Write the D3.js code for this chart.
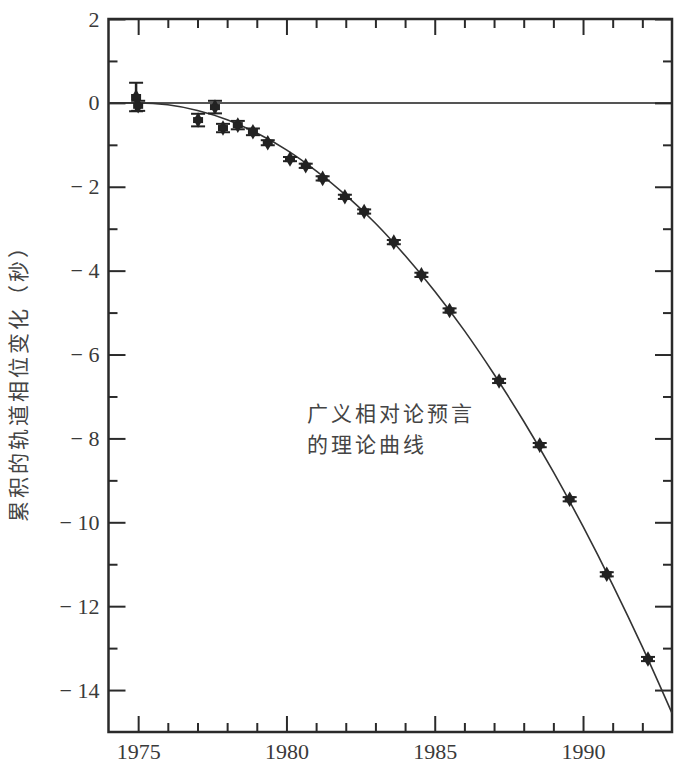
<!DOCTYPE html>
<html>
<head>
<meta charset="utf-8">
<script src="https://cdn.jsdelivr.net/npm/d3@7"></script>
<style>
  html, body { margin: 0; padding: 0; background: #fff; }
  svg { display: block; }
</style>
</head>
<body>
<div id="chart"></div>
<script>
// ---- data ----
const obsYears  = [1974.93, 1975.0, 1977.02, 1977.59, 1977.86, 1978.36, 1978.87, 1979.37, 1980.12, 1980.65, 1981.22, 1981.97, 1982.62, 1983.62, 1984.55, 1985.5, 1987.17, 1988.54, 1989.55, 1990.8, 1992.19];
const obsValues = [0.14, -0.07, -0.41, -0.1, -0.6, -0.53, -0.69, -0.95, -1.34, -1.5, -1.8, -2.24, -2.59, -3.32, -4.1, -4.95, -6.63, -8.16, -9.45, -11.24, -13.26];
const obsErrors = [0.34, 0.12, 0.15, 0.15, 0.1, 0.1, 0.08, 0.06, 0.05, 0.05, 0.05, 0.05, 0.05, 0.05, 0.05, 0.05, 0.05, 0.05, 0.05, 0.05, 0.05];

const curveYears  = [1974.0, 1975, 1976, 1977, 1978, 1979, 1980, 1981, 1982, 1983, 1984, 1985, 1986, 1987, 1988, 1989, 1990, 1991, 1992, 1993];
const curveValues = [0, 0, -0.045, -0.18, -0.40, -0.72, -1.12, -1.62, -2.20, -2.87, -3.64, -4.49, -5.43, -6.47, -7.59, -8.80, -10.10, -11.49, -12.97, -14.55];

const xMajorTicks = [1975, 1980, 1985, 1990];
const xMinorTicks = [1976, 1977, 1978, 1979, 1981, 1982, 1983, 1984, 1986, 1987, 1988, 1989, 1991, 1992];
const yMajorTicks = [2, 0, -2, -4, -6, -8, -10, -12, -14];
const yMinorTicks = [1, -1, -3, -5, -7, -9, -11, -13];

const yAxisTitle = "累积的轨道相位变化（秒）";
const annotationLines = ["广义相对论预言", "的理论曲线"];

// ---- layout ----
const W = 681, H = 769;
const pLeft = 108.5, pRight = 672, pTop = 19, pBottom = 732;

const svg = d3.select("#chart").append("svg")
  .attr("width", W).attr("height", H)
  .style("background", "#fff");

const x = d3.scaleLinear().domain([1974, 1993]).range([pLeft, pRight]);
const y = d3.scaleLinear().domain([-15, 2]).range([pBottom, pTop]);

const ink = "#2a2a2a";
const fmtY = d => d < 0 ? "\u2212 " + Math.abs(d) : String(d);

// zero line
svg.append("line")
  .attr("x1", x(1974)).attr("x2", x(1993))
  .attr("y1", y(0)).attr("y2", y(0))
  .attr("stroke", "#555").attr("stroke-width", 2);

function styleAxis(g) {
  g.select(".domain").remove();
  g.selectAll(".tick line").attr("stroke", ink).attr("stroke-width", 2);
  g.selectAll(".tick text")
    .attr("fill", "#3a3a3a")
    .style("font-family", "'Liberation Serif', 'DejaVu Serif', serif")
    .style("font-size", "22px");
}

// left axis
svg.append("g").attr("transform", `translate(${pLeft},0)`)
  .call(d3.axisLeft(y).tickValues(yMajorTicks).tickSizeInner(-17).tickSizeOuter(0).tickPadding(9).tickFormat(fmtY))
  .call(styleAxis);
svg.append("g").attr("transform", `translate(${pLeft},0)`)
  .call(d3.axisLeft(y).tickValues(yMinorTicks).tickSizeInner(-9).tickSizeOuter(0).tickFormat(""))
  .call(styleAxis);
// right axis
svg.append("g").attr("transform", `translate(${pRight},0)`)
  .call(d3.axisRight(y).tickValues(yMajorTicks).tickSizeInner(-17).tickSizeOuter(0).tickFormat(""))
  .call(styleAxis);
svg.append("g").attr("transform", `translate(${pRight},0)`)
  .call(d3.axisRight(y).tickValues(yMinorTicks).tickSizeInner(-9).tickSizeOuter(0).tickFormat(""))
  .call(styleAxis);
// bottom axis
svg.append("g").attr("transform", `translate(0,${pBottom})`)
  .call(d3.axisBottom(x).tickValues(xMajorTicks).tickSizeInner(-16).tickSizeOuter(0).tickPadding(11).tickFormat(d3.format("d")))
  .call(styleAxis);
svg.append("g").attr("transform", `translate(0,${pBottom})`)
  .call(d3.axisBottom(x).tickValues(xMinorTicks).tickSizeInner(-9).tickSizeOuter(0).tickFormat(""))
  .call(styleAxis);
// top axis
svg.append("g").attr("transform", `translate(0,${pTop})`)
  .call(d3.axisTop(x).tickValues(xMajorTicks).tickSizeInner(-16).tickSizeOuter(0).tickFormat(""))
  .call(styleAxis);
svg.append("g").attr("transform", `translate(0,${pTop})`)
  .call(d3.axisTop(x).tickValues(xMinorTicks).tickSizeInner(-9).tickSizeOuter(0).tickFormat(""))
  .call(styleAxis);

// frame
svg.append("rect")
  .attr("x", pLeft).attr("y", pTop)
  .attr("width", pRight - pLeft).attr("height", pBottom - pTop)
  .attr("fill", "none").attr("stroke", ink).attr("stroke-width", 2.5);

// theory curve
const curve = curveYears.map((t, i) => [t, curveValues[i]]);
svg.append("path")
  .datum(curve)
  .attr("fill", "none")
  .attr("stroke", "#333")
  .attr("stroke-width", 1.6)
  .attr("d", d3.line().x(d => x(d[0])).y(d => y(d[1])).curve(d3.curveMonotoneX));

// observations
const obs = obsYears.map((t, i) => ({ t, v: obsValues[i], e: obsErrors[i] }));
const pts = svg.append("g").selectAll("g").data(obs).join("g")
  .attr("transform", d => `translate(${x(d.t)},${y(d.v)})`);
pts.append("line")
  .attr("x1", 0).attr("x2", 0)
  .attr("y1", d => y(d.v + d.e) - y(d.v))
  .attr("y2", d => y(d.v - d.e) - y(d.v))
  .attr("stroke", "#222").attr("stroke-width", 2.5);
pts.append("line").attr("class", "cap")
  .attr("x1", -7).attr("x2", 7)
  .attr("y1", d => y(d.v + d.e) - y(d.v))
  .attr("y2", d => y(d.v + d.e) - y(d.v))
  .attr("stroke", "#222").attr("stroke-width", 2);
pts.append("line").attr("class", "cap")
  .attr("x1", -7).attr("x2", 7)
  .attr("y1", d => y(d.v - d.e) - y(d.v))
  .attr("y2", d => y(d.v - d.e) - y(d.v))
  .attr("stroke", "#222").attr("stroke-width", 2);
pts.append("path")
  .attr("d", d3.symbol().type(d3.symbolDiamond).size(70))
  .attr("fill", "#222");
pts.append("rect")
  .attr("x", -5).attr("y", -3).attr("width", 10).attr("height", 6)
  .attr("fill", "#222");

// y axis title
svg.append("text")
  .attr("transform", `translate(26,378) rotate(-90)`)
  .attr("text-anchor", "middle")
  .attr("fill", "#444")
  .style("font-family", "'Noto Sans CJK SC', sans-serif")
  .style("font-size", "21px")
  .style("letter-spacing", "3px")
  .text(yAxisTitle);

// annotation
svg.append("g").selectAll("text").data(annotationLines).join("text")
  .attr("x", 307)
  .attr("y", (d, i) => 421 + i * 31)
  .attr("fill", "#444")
  .style("font-family", "'Noto Sans CJK SC', sans-serif")
  .style("font-size", "21px")
  .style("letter-spacing", "3px")
  .text(d => d);
</script>
</body>
</html>
